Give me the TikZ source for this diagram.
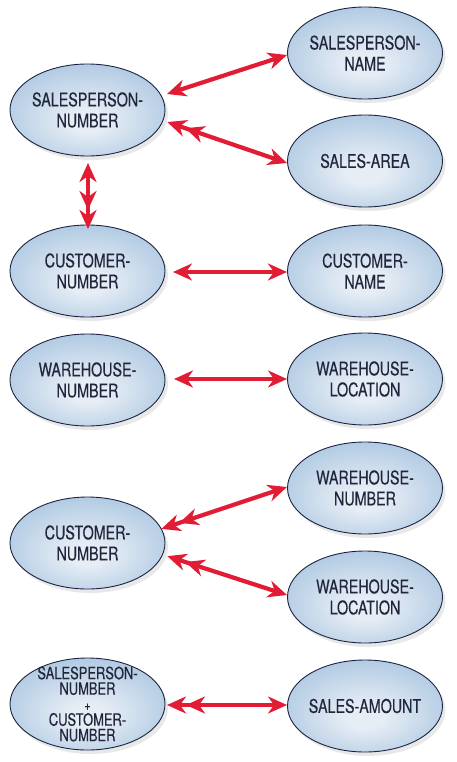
\documentclass[tikz,border=0pt]{standalone}
\usepackage{fontspec}
\setmainfont{TeX Gyre Heros}[FakeStretch=0.76,FakeBold=0.3]
\usetikzlibrary{arrows.meta,shapes.geometric,shadows,calc}
\definecolor{ellin}{RGB}{230,237,245}
\definecolor{ellmid}{RGB}{178,203,227}
\definecolor{ellout}{RGB}{124,162,202}
\definecolor{ellline}{RGB}{28,36,66}
\definecolor{txt}{RGB}{34,38,60}
\definecolor{arrred}{RGB}{226,28,52}
\pgfdeclareradialshading{ellshade}{\pgfpoint{0bp}{-7bp}}{color(0bp)=(ellin); color(6bp)=(ellin); color(28bp)=(ellmid); color(50bp)=(ellout)}
\tikzset{
  ell/.style={ellipse, draw=ellline, line width=0.9pt, minimum width=155pt, minimum height=92pt,
    inner sep=0pt, shading=ellshade,
    drop shadow={shadow xshift=3pt, shadow yshift=-4pt, opacity=0.15, fill=black!60}},
  lbl/.style={text=txt, align=center, font=\fontsize{18.8}{21}\selectfont, inner sep=0pt},
  lblsmall/.style={text=txt, align=center, font=\fontsize{17}{15.5}\selectfont, inner sep=0pt},
  arr/.style={draw=arrred, line width=4.2pt},
  tipa/.tip={Stealth[length=19pt,width=17pt,inset=6pt,color=arrred]},
  tipd/.tip={Stealth[length=19pt,width=17pt,inset=6pt,color=arrred]Stealth[length=19pt,width=17pt,inset=6pt,sep=-6pt,color=arrred]},
}
\begin{document}
\begin{tikzpicture}[x=1pt,y=-1pt]
\useasboundingbox (0,0) rectangle (457,762);
\node[ell, label={[lbl]center:SALESPERSON-\\NUMBER}] (spn) at (87.5,110) {};
\node[ell, label={[lbl]center:SALESPERSON-\\NAME}] (spname) at (365,53) {};
\node[ell, label={[lbl]center:SALES-AREA}] (sarea) at (365,161) {};
\node[ell, label={[lbl]center:CUSTOMER-\\NUMBER}] (cnum) at (87.5,271) {};
\node[ell, label={[lbl]center:CUSTOMER-\\NAME}] (cname) at (365,271) {};
\node[ell, label={[lbl]center:WAREHOUSE-\\NUMBER}] (wnum) at (87.5,380) {};
\node[ell, label={[lbl]center:WAREHOUSE-\\LOCATION}] (wloc) at (365,379) {};
\node[ell, label={[lbl]center:CUSTOMER-\\NUMBER}] (cnum2) at (87.5,543) {};
\node[ell, label={[lbl]center:WAREHOUSE-\\NUMBER}] (wnum2) at (365,488) {};
\node[ell, label={[lbl]center:WAREHOUSE-\\LOCATION}] (wloc2) at (365,597) {};
\node[ell, label={[lblsmall]center:SALESPERSON-\\NUMBER\\{\fontsize{14}{12}\selectfont +}\\CUSTOMER-\\NUMBER}] (combo) at (87.5,704) {};
\node[ell, label={[lbl]center:SALES-AMOUNT}] (samount) at (365,706) {};

\draw[arr, tipa-tipa] ($(spn)+(79.5,-16)$) -- ($(spname)+(-78,2)$);
\draw[arr, tipd-tipa] ($(spn)+(85.5,14)$) -- ($(sarea)+(-78,2)$);
\draw[arr, tipa-tipd] ($(spn)+(0.5,53)$) -- ($(cnum)+(0.5,-48)$);
\draw[arr, tipa-tipa] ($(cnum)+(85.5,1)$) -- ($(cname)+(-78,1)$);
\draw[arr, tipa-tipa] ($(wnum)+(86.5,-1)$) -- ($(wloc)+(-78,0)$);
\draw[arr, tipd-tipa] ($(cnum2)+(79.5,-16)$) -- ($(wnum2)+(-78,-1)$);
\draw[arr, tipd-tipa] ($(cnum2)+(85.5,15)$) -- ($(wloc2)+(-78,-2)$);
\draw[arr, tipd-tipa] ($(combo)+(85.5,1)$) -- ($(samount)+(-78,-1)$);
\end{tikzpicture}
\end{document}
